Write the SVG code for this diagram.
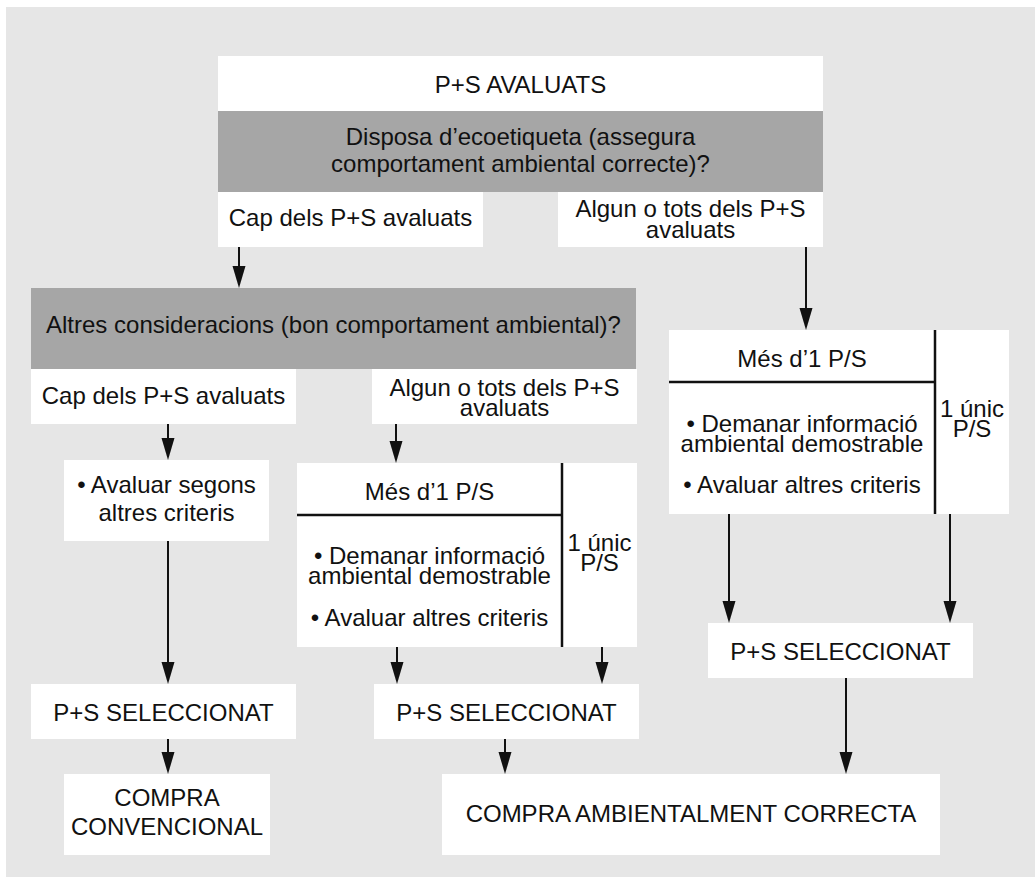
<svg xmlns="http://www.w3.org/2000/svg" width="1036" height="877" viewBox="0 0 1036 877">
<defs>
<style>
.bg{fill:#e6e6e6}
.w{fill:#ffffff}
.q{fill:#a6a6a6}
text{font-family:"Liberation Sans",Arial,Helvetica,sans-serif;font-size:24px;fill:#111;text-anchor:middle}
.div{stroke:#111;stroke-width:2.5;fill:none}
.c{stroke:#111;stroke-width:2;fill:none;marker-end:url(#ah)}
</style>
<marker id="ah" markerUnits="userSpaceOnUse" viewBox="0 0 22 14" refX="12" refY="7" markerWidth="22" markerHeight="14" orient="auto">
<path d="M0,0.5 L22,7 L0,13.5 Z" fill="#111"/>
</marker>
</defs>
<rect class="bg" x="6" y="7" width="1029" height="870"/>

<g id="n-avaluats">
<rect class="w" x="218" y="56" width="605" height="55"/>
<text x="520.5" y="93">P+S AVALUATS</text>
</g>
<g id="n-ecoetiqueta">
<rect class="q" x="218" y="111" width="605" height="81"/>
<text x="520.5" y="145">Disposa d’ecoetiqueta (assegura</text>
<text x="520.5" y="172">comportament ambiental correcte)?</text>
</g>
<g id="n-cap1">
<rect class="w" x="218" y="192" width="265" height="55"/>
<text x="350.5" y="226">Cap dels P+S avaluats</text>
</g>
<g id="n-algun1">
<rect class="w" x="558" y="192" width="265" height="55"/>
<text x="690.5" y="217">Algun o tots dels P+S</text>
<text x="690.5" y="238">avaluats</text>
</g>
<g id="n-altres">
<rect class="q" x="31" y="288" width="605" height="81"/>
<text x="333.5" y="333">Altres consideracions (bon comportament ambiental)?</text>
</g>
<g id="n-cap2">
<rect class="w" x="31" y="369" width="265" height="55"/>
<text x="163.5" y="404">Cap dels P+S avaluats</text>
</g>
<g id="n-algun2">
<rect class="w" x="372" y="369" width="265" height="55"/>
<text x="504.5" y="396">Algun o tots dels P+S</text>
<text x="504.5" y="416">avaluats</text>
</g>
<g id="n-avaluar">
<rect class="w" x="64" y="460" width="205" height="81"/>
<text x="166.5" y="493">• Avaluar segons</text>
<text x="166.5" y="521">altres criteris</text>
</g>
<g id="n-mes-mid">
<rect class="w" x="297" y="463" width="340" height="184"/>
<line class="div" x1="562" y1="463" x2="562" y2="647"/>
<line class="div" x1="297" y1="515" x2="562" y2="515"/>
<text x="429.5" y="500">Més d’1 P/S</text>
<text x="429.5" y="564">• Demanar informació</text>
<text x="429.5" y="584">ambiental demostrable</text>
<text x="429.5" y="626">• Avaluar altres criteris</text>
<text x="599.5" y="551">1 únic</text>
<text x="599.5" y="571">P/S</text>
</g>
<g id="n-mes-right">
<rect class="w" x="669" y="330" width="340" height="184"/>
<line class="div" x1="935" y1="330" x2="935" y2="514"/>
<line class="div" x1="669" y1="382" x2="935" y2="382"/>
<text x="802" y="367">Més d’1 P/S</text>
<text x="802" y="432">• Demanar informació</text>
<text x="802" y="452">ambiental demostrable</text>
<text x="802" y="493">• Avaluar altres criteris</text>
<text x="972" y="417">1 únic</text>
<text x="972" y="437">P/S</text>
</g>
<g id="n-sel-left">
<rect class="w" x="31" y="684" width="265" height="55"/>
<text x="163.5" y="721">P+S SELECCIONAT</text>
</g>
<g id="n-sel-mid">
<rect class="w" x="374" y="684" width="265" height="55"/>
<text x="506.5" y="721">P+S SELECCIONAT</text>
</g>
<g id="n-sel-right">
<rect class="w" x="708" y="623" width="265" height="55"/>
<text x="840.5" y="660">P+S SELECCIONAT</text>
</g>
<g id="n-conv">
<rect class="w" x="64" y="774" width="206" height="81"/>
<text x="167" y="806">COMPRA</text>
<text x="167" y="835">CONVENCIONAL</text>
</g>
<g id="n-amb">
<rect class="w" x="442" y="774" width="498" height="81"/>
<text x="691" y="822">COMPRA AMBIENTALMENT CORRECTA</text>
</g>

<g id="connectors">
<path class="c" d="M239,247 V278"/>
<path class="c" d="M806,247 V320"/>
<path class="c" d="M168,424 V450"/>
<path class="c" d="M396,424 V453"/>
<path class="c" d="M168,541 V674"/>
<path class="c" d="M397,647 V674"/>
<path class="c" d="M602,647 V674"/>
<path class="c" d="M729,514 V613"/>
<path class="c" d="M950,514 V613"/>
<path class="c" d="M168,739 V764"/>
<path class="c" d="M505,739 V764"/>
<path class="c" d="M846,678 V764"/>
</g>
</svg>
